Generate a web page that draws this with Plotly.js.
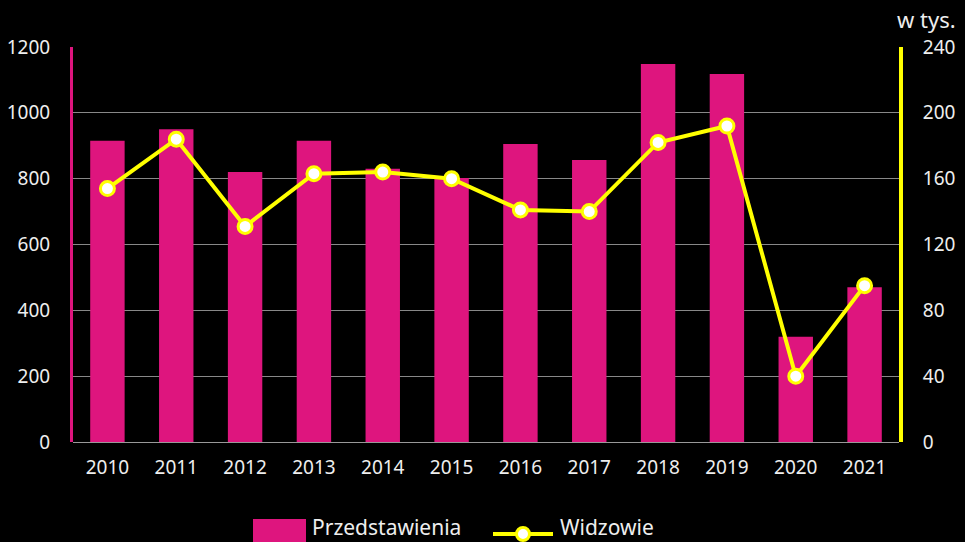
<!DOCTYPE html>
<html>
<head>
<meta charset="utf-8">
<script src="https://cdn.plot.ly/plotly-3.0.1.min.js"></script>
<style>html,body{margin:0;padding:0;background:#000;}#chart{width:965px;height:542px;}</style>
</head>
<body>
<div id="chart"></div>
<script>
const years = ['2010','2011','2012','2013','2014','2015','2016','2017','2018','2019','2020','2021'];
const przedstawienia = [915, 950, 820, 915, 830, 802, 905, 857, 1148, 1118, 320, 470];
const widzowie = [154, 184, 131, 163, 164, 160, 141, 140, 182, 192, 40, 95];
const leftTicks = [0, 200, 400, 600, 800, 1000, 1200];
const rightTicks = [0, 40, 80, 120, 160, 200, 240];
const seriesNames = ['Przedstawienia', 'Widzowie'];

const pink = '#DE157E';
const yellow = '#FFFF00';
const font = 'Noto Sans, Open Sans, sans-serif';

const traces = [
  {type:'bar', name:seriesNames[0], x:years, y:przedstawienia, marker:{color:pink}, width:0.5, showlegend:false},
  {type:'scatter', mode:'lines+markers', name:seriesNames[1], x:years, y:widzowie, yaxis:'y2', showlegend:false,
   line:{color:yellow, width:4}, marker:{size:14, color:'#fff', line:{color:yellow, width:3}}}
];

// legend drawn in paper coordinates (plot area 73..899 x 47..442 px)
const W = 826, H = 395;
const px = v => (v - 73) / W;
const py = v => (442 - v) / H;

const layout = {
  width:965, height:542,
  paper_bgcolor:'#000', plot_bgcolor:'#000',
  font:{family:font, color:'#eee', size:19},
  margin:{l:73, r:66, t:47, b:100, autoexpand:false},
  showlegend:false,
  xaxis:{type:'category', range:[-0.5, years.length - 0.5], tickfont:{size:19}, showgrid:false, showline:false, ticks:'', ticklabelstandoff:12},
  yaxis:{range:[0,1200], tickvals:leftTicks, showgrid:true, gridcolor:'#888', gridwidth:1,
         zeroline:true, zerolinecolor:'#999', zerolinewidth:1,
         showline:true, linecolor:pink, linewidth:3, ticks:'', ticklabelstandoff:16, tickfont:{size:19}},
  yaxis2:{range:[0,240], tickvals:rightTicks, overlaying:'y', side:'right', showgrid:false, zeroline:false,
          showline:true, linecolor:yellow, linewidth:4, ticks:'', ticklabelstandoff:16, tickfont:{size:19}},
  shapes:[
    {type:'rect', xref:'paper', yref:'paper', x0:px(253), x1:px(306), y0:py(519), y1:py(546), fillcolor:pink, line:{width:0}},
    {type:'line', xref:'paper', yref:'paper', x0:px(493), x1:px(553), y0:py(534), y1:py(534), line:{color:yellow, width:4}},
    {type:'circle', xref:'paper', yref:'paper', xsizemode:'pixel', ysizemode:'pixel', xanchor:px(523), yanchor:py(534),
     x0:-6.5, x1:6.5, y0:-6.5, y1:6.5, fillcolor:'#fff', line:{color:yellow, width:3}}
  ],
  annotations:[
    {text:'w tys.', xref:'paper', yref:'paper', x:px(895), xanchor:'left', y:py(19), yanchor:'middle',
     showarrow:false, font:{size:22, color:'#eee'}},
    {text:seriesNames[0], xref:'paper', yref:'paper', x:px(310), xanchor:'left', y:py(527), yanchor:'middle',
     showarrow:false, font:{size:21, color:'#eee'}},
    {text:seriesNames[1], xref:'paper', yref:'paper', x:px(558), xanchor:'left', y:py(527), yanchor:'middle',
     showarrow:false, font:{size:21, color:'#eee'}}
  ]
};

Plotly.newPlot('chart', traces, layout, {displayModeBar:false});
</script>
</body>
</html>
